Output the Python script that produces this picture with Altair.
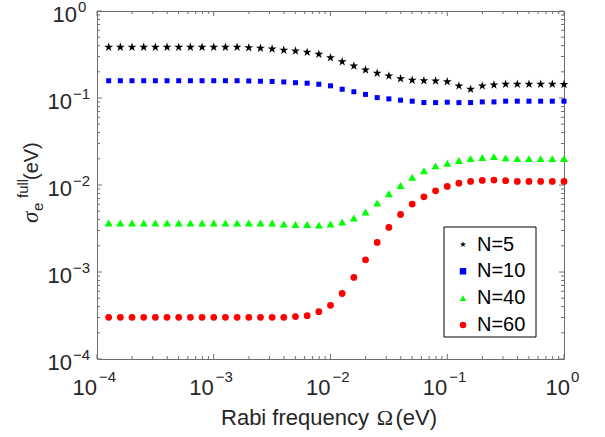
import altair as alt
import pandas as pd

# ---------------- data ----------------
omega = [10 ** (-4 + k / 10) for k in range(1, 41)]  # sampling grid, 10 pts / decade

series = ["N=5", "N=10", "N=40", "N=60"]

sigma_n5 = [0.383, 0.383, 0.383, 0.383, 0.383, 0.383, 0.383, 0.383, 0.383, 0.383,
            0.383, 0.383, 0.379, 0.373, 0.366, 0.354, 0.347, 0.335, 0.318, 0.290,
            0.262, 0.234, 0.210, 0.193, 0.179, 0.167, 0.160, 0.158, 0.157, 0.154,
            0.138, 0.126, 0.138, 0.141, 0.144, 0.144, 0.144, 0.144, 0.144, 0.143]
sigma_n10 = [0.158, 0.158, 0.158, 0.158, 0.158, 0.158, 0.158, 0.158, 0.158, 0.158,
             0.158, 0.158, 0.157, 0.156, 0.155, 0.153, 0.150, 0.148, 0.144, 0.138,
             0.126, 0.118, 0.110, 0.101, 0.0977, 0.0944, 0.0919, 0.0886, 0.0886, 0.0895,
             0.0886, 0.0886, 0.0902, 0.0902, 0.0919, 0.0919, 0.0919, 0.0919, 0.0919, 0.0919]
sigma_n40 = [0.00365, 0.00365, 0.00365, 0.00365, 0.00365, 0.00365, 0.00365, 0.00365, 0.00365, 0.00365,
             0.00365, 0.00365, 0.00365, 0.00365, 0.00365, 0.00356, 0.00352, 0.00352, 0.00346, 0.00356,
             0.00375, 0.00417, 0.00489, 0.00619, 0.00792, 0.00987, 0.0123, 0.0146, 0.0166, 0.0178,
             0.0191, 0.0201, 0.0207, 0.0212, 0.0205, 0.0201, 0.0201, 0.0201, 0.0201, 0.0201]
sigma_n60 = [0.000301, 0.000301, 0.000301, 0.000301, 0.000301, 0.000301, 0.000301, 0.000301, 0.000301, 0.000301,
             0.000301, 0.000301, 0.000301, 0.000301, 0.000301, 0.000301, 0.000307, 0.000315, 0.000350, 0.000414,
             0.000566, 0.000867, 0.00138, 0.00219, 0.00325, 0.00458, 0.00604, 0.00732, 0.00858, 0.00962,
             0.0105, 0.0110, 0.0113, 0.0114, 0.0112, 0.0110, 0.0110, 0.0110, 0.0110, 0.0110]

major_ticks = [1e-4, 1e-3, 1e-2, 1e-1, 1.0]
major_exps = ["\u22124", "\u22123", "\u22122", "\u22121", "0"]
minor_ticks = [m * 10.0 ** e for e in range(-4, 0) for m in range(2, 10)]

x_title_parts = ["Rabi frequency", "\u03a9", "(eV)"]
y_title_parts = ["\u03c3", "e", "full", "(eV)"]

# ---------------- styling ----------------
W, H = 467, 348
SANS = "Liberation Sans"
SERIF = "Liberation Serif"
TXT = "#262626"
AX = "#6e6e6e"
colors = ["#000000", "#0000ff", "#00ff00", "#ff0000"]
STAR = ("M0,-1L0.225,-0.309L0.951,-0.309L0.363,0.118L0.588,0.809L0,0.382"
        "L-0.588,0.809L-0.363,0.118L-0.951,-0.309L-0.225,-0.309Z")
shapes = [STAR, "square", "triangle-up", "circle"]
sizes = [88, 25, 64, 46]

rows = []
for name, vals in zip(series, [sigma_n5, sigma_n10, sigma_n40, sigma_n60]):
    for o, v in zip(omega, vals):
        rows.append({"omega": o, "sigma": v, "series": name})
df = pd.DataFrame(rows)

xs = alt.Scale(type="log", domain=[1e-4, 1], nice=False)
ys = alt.Scale(type="log", domain=[1e-4, 1], nice=False)

leg = alt.Legend(title=None, orient="none", legendX=347, legendY=217.5, padding=6,
                 rowPadding=6.8, labelFont=SANS, labelFontSize=20, labelColor="black",
                 symbolOffset=3, labelOffset=4, symbolStrokeWidth=0, symbolSize=42)

point_layers = []
for name, sz in zip(series, sizes):
    point_layers.append(
        alt.Chart(df).transform_filter(alt.datum.series == name)
        .mark_point(filled=True, opacity=1, strokeWidth=0, size=sz)
        .encode(
            x=alt.X("omega:Q", scale=xs, axis=None),
            y=alt.Y("sigma:Q", scale=ys, axis=None),
            color=alt.Color("series:N", scale=alt.Scale(domain=series, range=colors), legend=leg),
            shape=alt.Shape("series:N", scale=alt.Scale(domain=series, range=shapes), legend=leg),
        )
    )

# legend frame
legend_box = alt.Chart(pd.DataFrame({"b": [0]})).mark_rect(
    fill="white", stroke="black", strokeWidth=1).encode(
    x=alt.value(347), x2=alt.value(439), y=alt.value(216), y2=alt.value(326))

maj_df = pd.DataFrame({"v": major_ticks, "e": major_exps})
min_df = pd.DataFrame({"v": minor_ticks})

def xticks(d, ln):
    base = alt.Chart(d).mark_rule(color=AX, strokeWidth=1)
    b = base.encode(x=alt.X("v:Q", scale=xs, axis=None), y=alt.value(H), y2=alt.value(H - ln))
    t = base.encode(x=alt.X("v:Q", scale=xs, axis=None), y=alt.value(0), y2=alt.value(ln))
    return [b, t]

def yticks(d, ln):
    base = alt.Chart(d).mark_rule(color=AX, strokeWidth=1)
    l = base.encode(y=alt.Y("v:Q", scale=ys, axis=None), x=alt.value(0), x2=alt.value(ln))
    r = base.encode(y=alt.Y("v:Q", scale=ys, axis=None), x=alt.value(W), x2=alt.value(W - ln))
    return [l, r]

tick_layers = xticks(maj_df, 5) + xticks(min_df, 3) + yticks(maj_df, 5) + yticks(min_df, 3)

# tick labels (10 with superscript exponent)
def xlabels(flt, dx10, dxe):
    c = alt.Chart(maj_df).transform_filter(flt)
    ten = c.mark_text(text="10", align="right", baseline="alphabetic", font=SANS,
                      fontSize=22, color=TXT, dx=dx10).encode(
        x=alt.X("v:Q", scale=xs, axis=None), y=alt.value(H + 36))
    ex = c.mark_text(align="left", baseline="alphabetic", font=SANS, fontSize=15,
                     color=TXT, dx=dxe).encode(
        x=alt.X("v:Q", scale=xs, axis=None), y=alt.value(H + 23), text="e:N")
    return [ten, ex]

def ylabels(flt, x10, xe):
    c = alt.Chart(maj_df).transform_filter(flt)
    ten = c.mark_text(text="10", align="right", baseline="alphabetic", font=SANS,
                      fontSize=22, color=TXT, dy=11).encode(
        y=alt.Y("v:Q", scale=ys, axis=None), x=alt.value(x10))
    ex = c.mark_text(align="left", baseline="alphabetic", font=SANS, fontSize=15,
                     color=TXT, dy=1).encode(
        y=alt.Y("v:Q", scale=ys, axis=None), x=alt.value(xe), text="e:N")
    return [ten, ex]

label_layers = (xlabels("datum.v < 0.5", 0, 2) + xlabels("datum.v > 0.5", 6, 7)
                + ylabels("datum.v < 0.5", -25, -24) + ylabels("datum.v > 0.5", -20, -19))

# axis titles
def piece(txt, font, size, x, y, align="left", angle=0, style="normal"):
    kw = dict(align=align, baseline="alphabetic", font=font, fontSize=size,
              color=TXT, fontStyle=style)
    if angle:
        kw["angle"] = angle
    return alt.Chart(pd.DataFrame({"t": [txt]})).mark_text(**kw).encode(
        text="t:N", x=alt.value(x), y=alt.value(y))

title_layers = [
    piece(x_title_parts[0], SANS, 22, 272, H + 66, align="right"),
    piece(x_title_parts[1], SERIF, 22, 288, H + 66, align="center"),
    piece(x_title_parts[2], SANS, 22, 298.5, H + 66, align="left"),
    piece(y_title_parts[0], SERIF, 23, -59, 212, angle=270, style="italic"),
    piece(y_title_parts[1], SANS, 15, -54, 200, angle=270),
    piece(y_title_parts[2], SANS, 15, -69, 187, angle=270),
    piece(y_title_parts[3], SANS, 20, -59, 169, angle=270),
]

chart = alt.layer(*tick_layers, *point_layers, legend_box, *label_layers, *title_layers).properties(
    width=W, height=H,
    autosize=alt.AutoSizeParams(type="none"),
    padding={"left": 97, "top": 11, "right": 41, "bottom": 78},
    background="white",
).configure_view(stroke=AX, strokeWidth=1)

chart.save("out.html", embed_options={"renderer": "svg", "actions": False})
